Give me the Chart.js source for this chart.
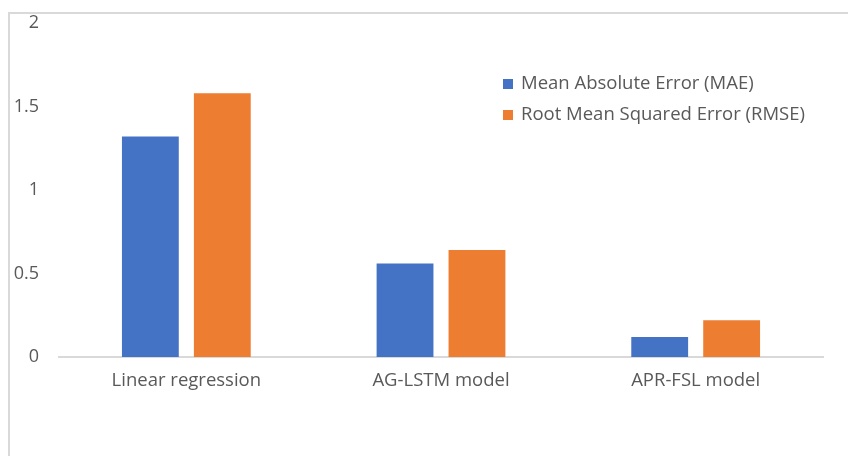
<!DOCTYPE html>
<html>
<head>
<meta charset="utf-8">
<script src="https://cdn.jsdelivr.net/npm/chart.js@4.4.0/dist/chart.umd.min.js"></script>
<style>
  html, body { margin: 0; padding: 0; background: #fff; }
  #wrap { position: relative; width: 848px; height: 456px; overflow: hidden; }
  #frame { position: absolute; left: 8px; top: 12px; width: 900px; height: 500px;
           border-left: 2px solid #d9d9d9; border-top: 2px solid #d9d9d9; }
  canvas { position: absolute; left: 0; top: 0; }
</style>
</head>
<body>
<div id="wrap">
  <div id="frame"></div>
  <canvas id="myChart" width="848" height="456"></canvas>
</div>
<script>
// values
var models = ['Linear regression', 'AG-LSTM model', 'APR-FSL model'];
var maeValues = [1.32, 0.56, 0.12];
var rmseValues = [1.58, 0.64, 0.22];
var yTicks = [0, 0.5, 1, 1.5, 2];

var textColor = '#595959';
var fontFamily = '"Open Sans", sans-serif';

// legend drawn at a fixed spot inside the plot
var boxLegend = {
  id: 'boxLegend',
  afterDraw: function (chart) {
    var ctx = chart.ctx;
    ctx.save();
    ctx.font = '18.5px ' + fontFamily;
    ctx.textBaseline = 'middle';
    ctx.textAlign = 'left';
    chart.data.datasets.forEach(function (ds, i) {
      var y = 84 + i * 31;
      ctx.fillStyle = ds.backgroundColor;
      ctx.fillRect(503, y - 5, 10, 10);
      ctx.fillStyle = textColor;
      ctx.fillText(ds.label, 521, y);
    });
    ctx.restore();
  }
};

var ctx = document.getElementById('myChart');
var myChart = new Chart(ctx, {
  type: 'bar',
  data: {
    labels: models,
    datasets: [{
      label: 'Mean Absolute Error (MAE)',
      data: maeValues,
      backgroundColor: '#4472C4'
    }, {
      label: 'Root Mean Squared Error (RMSE)',
      data: rmseValues,
      backgroundColor: '#ED7D31'
    }]
  },
  options: {
    responsive: false,
    animation: false,
    categoryPercentage: 0.565,
    barPercentage: 0.79,
    layout: { padding: { top: 23, right: 25, left: 0, bottom: 0 } },
    plugins: {
      legend: { display: false },
      tooltip: { enabled: false }
    },
    scales: {
      x: {
        grid: { display: false, drawTicks: false },
        border: { display: true, color: '#d9d9d9', width: 2 },
        ticks: { color: textColor, padding: 13, font: { family: fontFamily, size: 18.5 } },
        afterFit: function (scale) { scale.height = 99; }
      },
      y: {
        min: 0,
        max: 2,
        afterBuildTicks: function (scale) {
          scale.ticks = yTicks.map(function (v) { return { value: v }; });
        },
        grid: { display: false, drawTicks: false },
        border: { display: false },
        ticks: {
          color: textColor,
          padding: 20,
          font: { family: fontFamily, size: 18 },
          callback: function (v) { return String(v); }
        },
        afterFit: function (scale) {
          scale.width = 59;
          scale.paddingTop = 0;
          scale.paddingBottom = 0;
        }
      }
    }
  },
  plugins: [boxLegend]
});
</script>
</body>
</html>
